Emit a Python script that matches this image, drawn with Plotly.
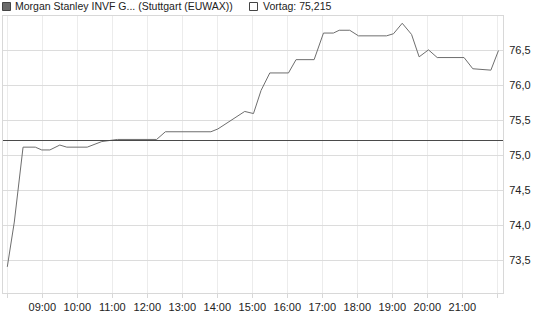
import pandas as pd
import plotly.graph_objects as go

# ---- data ----
times = ["08:00", "08:12", "08:27", "08:48", "08:59", "09:13", "09:30", "09:42",
         "10:17", "10:33", "10:42", "11:09", "12:16", "12:31", "13:49", "14:01",
         "14:22", "14:36", "14:47", "15:02", "15:15", "15:30", "16:02", "16:15",
         "16:46", "17:02", "17:19", "17:29", "17:47", "18:02", "18:50", "19:02",
         "19:17", "19:33", "19:46", "20:02", "20:17", "21:03", "21:18", "21:49",
         "22:02"]
prices = [73.41, 74.05, 75.12, 75.12, 75.08, 75.08, 75.15, 75.12,
          75.12, 75.17, 75.20, 75.23, 75.23, 75.34, 75.34, 75.38,
          75.50, 75.58, 75.63, 75.60, 75.93, 76.18, 76.18, 76.37,
          76.37, 76.75, 76.75, 76.79, 76.79, 76.71, 76.71, 76.74,
          76.89, 76.73, 76.41, 76.51, 76.40, 76.40, 76.24, 76.22,
          76.50]
prev_close = 75.215
series_name = "Morgan Stanley INVF G... (Stuttgart (EUWAX))"
prev_label = "Vortag: 75,215"
tick_hours = ["08:00", "09:00", "10:00", "11:00", "12:00", "13:00", "14:00", "15:00",
              "16:00", "17:00", "18:00", "19:00", "20:00", "21:00", "22:00"]
tick_labels = ["", "09:00", "10:00", "11:00", "12:00", "13:00", "14:00", "15:00",
               "16:00", "17:00", "18:00", "19:00", "20:00", "21:00", ""]
y_ticks = [73.5, 74.0, 74.5, 75.0, 75.5, 76.0, 76.5]

DAY = "2024-01-02 "
x = pd.to_datetime([DAY + t for t in times])
xt = pd.to_datetime([DAY + t for t in tick_hours])

W, H = 545, 327
L, R, T, B = 3, 503, 16, 293   # plot area in pixels


def px_x(px):
    return (px - L) / (R - L)


def px_y(py):
    return (B - py) / (B - T)


fig = go.Figure()
fig.add_trace(go.Scatter(x=x, y=prices, mode="lines",
                         line=dict(color="#6e6e6e", width=1),
                         hoverinfo="skip", showlegend=False))

fig.add_shape(type="line", xref="paper", yref="y", x0=0, x1=1,
              y0=prev_close, y1=prev_close,
              line=dict(color="#4a4a4a", width=1))

font = dict(family="Liberation Sans, Arial, sans-serif", size=11, color="#222222")
hfont = dict(family="Liberation Sans, Arial, sans-serif", size=10.5, color="#222222")

# legend-like header
fig.add_shape(type="rect", xref="paper", yref="paper",
              x0=px_x(2.5), x1=px_x(10.5), y0=px_y(10.5), y1=px_y(2.5),
              fillcolor="#6a6a6a", line=dict(color="#444444", width=1))
fig.add_annotation(xref="paper", yref="paper", x=px_x(13), y=px_y(6.5),
                   text=series_name, showarrow=False, xanchor="left",
                   yanchor="middle", font=hfont)
fig.add_shape(type="rect", xref="paper", yref="paper",
              x0=px_x(249.5), x1=px_x(257.5), y0=px_y(10.5), y1=px_y(2.5),
              fillcolor="#ffffff", line=dict(color="#444444", width=1))
fig.add_annotation(xref="paper", yref="paper", x=px_x(261), y=px_y(6.5),
                   text=prev_label, showarrow=False, xanchor="left",
                   yanchor="middle", font=hfont)

x0 = pd.Timestamp(DAY + "08:00") - pd.Timedelta(minutes=(7.3 - L) / 35 * 60)
x1 = pd.Timestamp(DAY + "08:00") + pd.Timedelta(minutes=(R - 7.3) / 35 * 60)

shift = 0.55 / 70
fig.update_layout(
    width=W, height=H,
    margin=dict(l=L, r=W - R, t=T, b=H - B, pad=0),
    paper_bgcolor="white", plot_bgcolor="white",
    separators=",.",
    font=font,
    showlegend=False,
    xaxis=dict(type="date", range=[x0, x1], tickvals=xt, ticktext=tick_labels,
               showgrid=True, gridcolor="#ececec", gridwidth=1,
               showline=True, linecolor="#d8d8d8", linewidth=1, mirror=True,
               ticks="outside", ticklen=4, tickcolor="#d8d8d8",
               zeroline=False, tickfont=font),
    yaxis=dict(range=[76.5 - (B - 50) / 70 + shift, 76.5 + (50 - T) / 70 + shift],
               tickvals=y_ticks, tickformat=".1f", side="right",
               showgrid=True, gridcolor="#dcdcdc", gridwidth=1,
               showline=True, linecolor="#d8d8d8", linewidth=1, mirror=True,
               ticks="outside", ticklen=3, tickcolor="white",
               zeroline=False, tickfont=font),
)

fig.write_html("out.html")
